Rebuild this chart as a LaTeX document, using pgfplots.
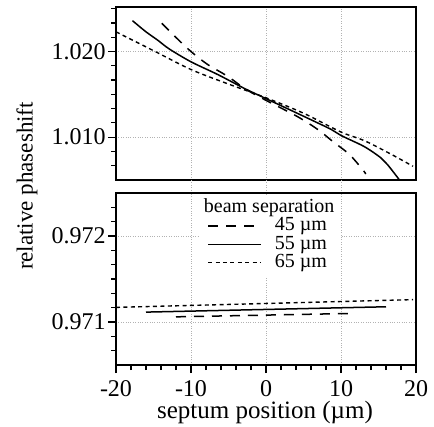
\documentclass[border=0pt]{standalone}
\usepackage{fontspec}
\setmainfont{Liberation Serif}
\usepackage{pgfplots}
\pgfplotsset{compat=1.18}

\tikzset{gridgap/.style={gray!60, line width=0.4pt, dash pattern=on 0.4pt off 0.8pt}}
\pgfplotsset{
  phase/.style={
    scale only axis, width=150pt,
    xmin=-20, xmax=20,
    axis line style={line width=0.8pt},
    tick align=outside, major tick length=4pt, minor tick length=2.5pt,
    tick style={black, line width=0.6pt},
    xtick pos=bottom, ytick pos=left,
    grid=major,
    major grid style={gray!60, line width=0.4pt, dash pattern=on 0.4pt off 0.8pt},
    ticklabel style={font=\fontsize{12}{12}\selectfont},
    yticklabel style={inner xsep=1pt},
  },
  d45/.style={black, line width=0.75pt, dash pattern=on 5pt off 4pt},
  d55/.style={black, line width=0.75pt},
  d65/.style={black, line width=0.7pt, dash pattern=on 2pt off 1.7pt},
}

\begin{document}
\begin{tikzpicture}

% upper panel
\begin{axis}[phase, at={(58pt,-90pt)}, anchor=south west, height=86.5pt,
  ymin=1.005, ymax=1.0252,
  xtick={-10,0,10}, xticklabels={}, xtick style={draw=none},
  ytick={1.010,1.020}, yticklabels={1.010,1.020},
  minor ytick={1.006667,1.008333,1.011667,1.013333,1.015,1.016667,1.018333,1.021667,1.023333,1.025},
  clip=false]
\addplot[d45, smooth] table {
-13.9 1.0233
-11.6 1.0213
-10.0 1.0200
-7.8 1.0185
-5.1 1.0171
-2.7 1.0156
0.0 1.0143
4.2 1.0124
6.9 1.0109
8.9 1.0095
11.1 1.0080
12.9 1.0062
13.3 1.0057
};
\addplot[d55, smooth] table {
-17.8 1.0236
-16.0 1.0223
-14.4 1.0213
-12.9 1.0203
-10.0 1.0188
-6.4 1.0173
-2.9 1.0157
0.0 1.0145
2.2 1.0136
5.6 1.0122
8.7 1.0109
10.0 1.0102
13.1 1.0089
15.3 1.0076
16.2 1.0068
17.8 1.0050
};
\addplot[d65, smooth] table {
-20.0 1.0223
-15.0 1.0201
-10.0 1.0179
-5.0 1.0162
0.0 1.0146
5.0 1.0128
10.0 1.0106
13.1 1.0096
16.7 1.0080
19.6 1.0066
};
\draw[gridgap] (axis cs:-10,1.005) -- ++(0pt,-6.5pt);
\draw[gridgap] (axis cs:0,1.005) -- ++(0pt,-6.5pt);
\draw[gridgap] (axis cs:10,1.005) -- ++(0pt,-6.5pt);
\end{axis}

% lower panel
\begin{axis}[phase, at={(58pt,-182.5pt)}, anchor=south west, height=86pt,
  ymin=0.9705, ymax=0.9725,
  xtick={-20,-10,0,10,20}, xticklabels={-20,-10,0,10,20},
  minor xtick={-18,-16,-14,-12,-8,-6,-4,-2,2,4,6,8,12,14,16,18},
  ytick={0.971,0.972}, yticklabels={0.971,0.972},
  minor ytick={0.970667,0.970833,0.971167,0.971333,0.9715,0.971667,0.971833,0.972167,0.972333},
  legend image code/.code={\draw[#1] (0pt,0pt) -- (26.5pt,0pt);},
  legend cell align=left,
  legend style={at={(0.28,0.992)}, anchor=north west, draw=none, fill=white,
    font=\fontsize{10}{10}\selectfont, inner xsep=3.5pt, inner ysep=1.8pt,
    nodes={inner sep=0pt, text height=7pt, text depth=2.2pt},
    column sep=6.5pt, row sep=0pt}]
\addlegendimage{empty legend}
\addlegendentry{\hspace{-35.5pt}beam separation}
\addplot[d45] table {
-12.0 0.97106
11.7 0.97110
};
\addlegendentry{45 µm}
\addplot[d55] table {
-16.0 0.971115
16.0 0.971177
};
\addlegendentry{55 µm}
\addplot[d65] table {
-20.0 0.97117
19.6 0.97126
};
\addlegendentry{65 µm}
\end{axis}

\node[rotate=90, font=\fontsize{11.5}{12}\selectfont] at (13.5pt,-93pt) {relative phaseshift};
\node[anchor=base, font=\fontsize{12.5}{13}\selectfont] at (132.5pt,-209pt) {septum position (µm)};

\pgfresetboundingbox
\path (0pt,0pt) rectangle (217pt,-213.5pt);
\end{tikzpicture}
\end{document}
